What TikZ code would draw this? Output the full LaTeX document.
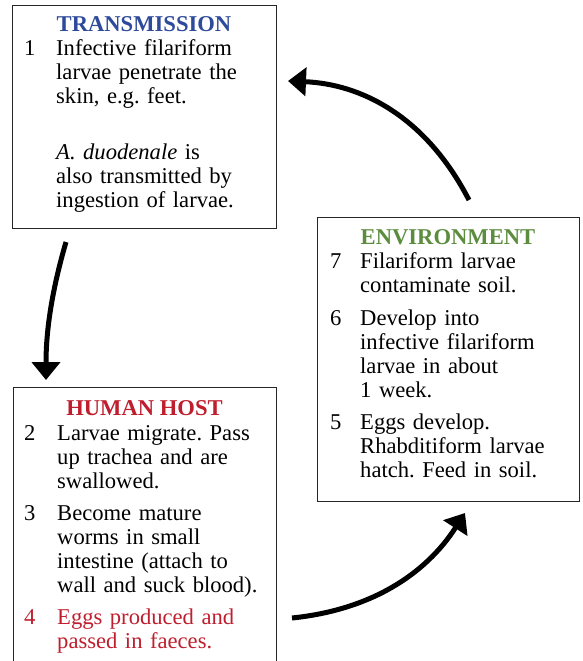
\documentclass[tikz,border=0pt]{standalone}
\usepackage{fontspec}
\setmainfont{Liberation Serif}
\usepackage{xcolor}
\usetikzlibrary{arrows.meta}
\definecolor{transblue}{RGB}{46,74,155}
\definecolor{envgreen}{RGB}{92,140,62}
\definecolor{hostred}{RGB}{190,30,45}
\newcommand\BodySize{\fontsize{22.6}{24}\selectfont\frenchspacing}
\tikzset{
  panel/.style={
    draw = black!85,
    line width = 0.9pt,
    inner sep = 0pt,
    anchor = north west
  },
  heading/.style={
    anchor = base,
    font = \BodySize\bfseries,
    inner sep = 0pt
  },
  num/.style={
    anchor = base west,
    font = \BodySize,
    inner sep = 0pt
  },
  entry/.style={
    anchor = base west,
    font = \BodySize,
    align = left,
    text width = 215pt,
    inner sep = 0pt
  },
  cyclearrow/.style={
    line width = 5pt,
    -{Triangle[width = 28pt, length = 18pt]}
  }
}

\begin{document}
\begin{tikzpicture}[x=1pt, y=-1pt]
    \useasboundingbox (0,0) rectangle (582,661);
    \clip (0,0) rectangle (582,661);

    \node[panel, minimum width = 264pt, minimum height = 223pt] (trans) at (12,5) {};
    \node[heading, color = transblue] (transtitle) at (144,32) {TRANSMISSION};
    \node[num] (n1) at (24,56) {1};
    \node[entry] (trans1) at (56,56) {Infective filariform\\ larvae penetrate the\\ skin, e.g.\ feet.};
    \node[entry] (transnote) at (56,159) {\textit{A. duodenale} is\\ also transmitted by\\ ingestion of larvae.};

    \node[panel, minimum width = 262pt, minimum height = 284pt] (env) at (317,217) {};
    \node[heading, color = envgreen] (envtitle) at (448,244) {ENVIRONMENT};
    \node[num] (n7) at (330,268) {7};
    \node[entry] (env7) at (360,268) {Filariform larvae\\ contaminate soil.};
    \node[num] (n6) at (330,325) {6};
    \node[entry] (env6) at (360,325) {Develop into\\ infective filariform\\ larvae in about\\ 1 week.};
    \node[num] (n5) at (330,429) {5};
    \node[entry] (env5) at (360,429) {Eggs develop.\\ Rhabditiform larvae\\ hatch. Feed in soil.};

    \node[panel, minimum width = 263pt, minimum height = 290pt] (host) at (13,387) {};
    \node[heading, color = hostred] (hosttitle) at (144.5,415) {HUMAN HOST};
    \node[num] (n2) at (24,440) {2};
    \node[entry] (host2) at (57,440) {Larvae migrate. Pass\\ up trachea and are\\ swallowed.};
    \node[num] (n3) at (24,520) {3};
    \node[entry] (host3) at (57,520) {Become mature\\ worms in small\\ intestine (attach to\\ wall and suck blood).};
    \node[num, color = hostred] (n4) at (24,624) {4};
    \node[entry, color = hostred] (host4) at (57,624) {Eggs produced and\\ passed in faeces.};

    \coordinate (envOut) at (469,200);
    \coordinate (transIn) at (288,81);
    \coordinate (transOut) at (66,242);
    \coordinate (hostIn) at (46,380);
    \coordinate (hostOut) at (292,618);
    \coordinate (envIn) at (465,513);

    \draw[cyclearrow] (envOut) .. controls (425,115) and (360,84) .. (transIn);
    \draw[cyclearrow] (transOut) .. controls (52,290) and (46,330) .. (hostIn);
    \draw[cyclearrow] (hostOut) .. controls (370,610) and (425,575) .. (envIn);
\end{tikzpicture}
\end{document}
